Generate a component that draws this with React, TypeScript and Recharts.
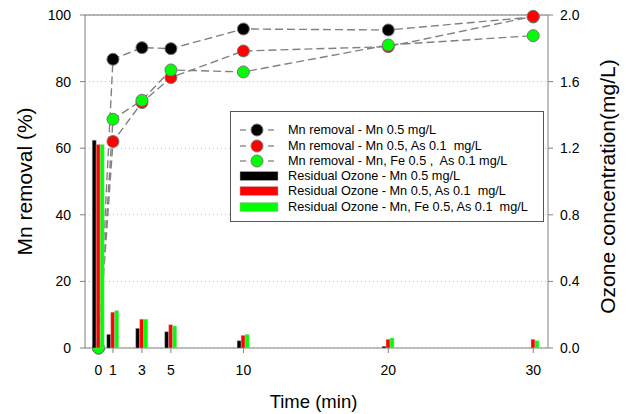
import React from 'react';
import { ComposedChart, Line, Bar, XAxis, YAxis, CartesianGrid, ReferenceLine, Legend } from 'recharts';

const FONT = '"Liberation Sans", Arial, sans-serif';

const times = [0, 1, 3, 5, 10, 20, 30];
const removalMn = [0, 86.7, 90.2, 89.9, 95.8, 95.5, 99.4];
const removalMnAs = [0, 62.0, 73.7, 81.2, 89.2, 90.5, 99.6];
const removalMnFeAs = [0, 68.7, 74.4, 83.5, 82.9, 91.0, 93.8];
const ozoneMn = [1.248, 0.082, 0.118, 0.098, 0.044, 0.01, 0];
const ozoneMnAs = [1.222, 0.215, 0.173, 0.14, 0.076, 0.052, 0.052];
const ozoneMnFeAs = [1.222, 0.225, 0.173, 0.132, 0.082, 0.06, 0.044];

const xTicks = [0, 1, 3, 5, 10, 20, 30];
const leftTicks = [0, 20, 40, 60, 80, 100];
const rightTicks = [0, 0.4, 0.8, 1.2, 1.6, 2.0];

const lineNames = [
  'Mn removal - Mn 0.5 mg/L',
  'Mn removal - Mn 0.5, As 0.1  mg/L',
  'Mn removal - Mn, Fe 0.5 ,  As 0.1 mg/L',
];
const barNames = [
  'Residual Ozone - Mn 0.5 mg/L',
  'Residual Ozone - Mn 0.5, As 0.1  mg/L',
  'Residual Ozone - Mn, Fe 0.5, As 0.1  mg/L',
];
const colors = ['#000000', '#ff0000', '#00ff00'];

const data = times.map((t, i) => ({
  t,
  rMn: removalMn[i],
  rMnAs: removalMnAs[i],
  rMnFeAs: removalMnFeAs[i],
  oMn: ozoneMn[i],
  oMnAs: ozoneMnAs[i],
  oMnFeAs: ozoneMnFeAs[i],
}));

const lineKeys = ['rMn', 'rMnAs', 'rMnFeAs'];
const barKeys = ['oMn', 'oMnAs', 'oMnFeAs'];

const LegendBox = () => {
  const rows = [
    ...lineNames.map((n, i) => ({ name: n, color: colors[i], kind: 'line' })),
    ...barNames.map((n, i) => ({ name: n, color: colors[i], kind: 'bar' })),
  ];
  return (
    <div
      style={{
        position: 'relative',
        width: 314,
        height: 111,
        border: '1px solid #555',
        boxSizing: 'border-box',
        background: '#fff',
        fontFamily: FONT,
        fontSize: 12.7,
        color: '#000',
      }}
    >
      {rows.map((r, i) => (
        <div
          key={i}
          style={{
            position: 'absolute',
            left: 0,
            top: 18.3 + i * 15.27 - 8,
            height: 16,
            display: 'flex',
            alignItems: 'center',
          }}
        >
          <svg width={57} height={16} style={{ display: 'block' }}>
            {r.kind === 'line' ? (
              <g>
                <line x1={9} y1={8} x2={15} y2={8} stroke="#808080" strokeWidth={1.3} />
                <line x1={37} y1={8} x2={43} y2={8} stroke="#808080" strokeWidth={1.3} />
                <circle cx={26} cy={8} r={6} fill={r.color} stroke="#777" strokeWidth={1} />
              </g>
            ) : (
              <rect x={9} y={3.5} width={38} height={9} fill={r.color} stroke="#bbb" strokeWidth={0.5} />
            )}
          </svg>
          <span style={{ whiteSpace: 'pre', lineHeight: '16px' }}>{r.name}</span>
        </div>
      ))}
    </div>
  );
};

const LeftTitle = (props: any) => {
  const vb = props.viewBox || {};
  const cy = vb.y + vb.height / 2;
  return (
    <text x={24} y={cy} transform={`rotate(-90 24 ${cy})`} textAnchor="middle" dominantBaseline="central" fontFamily={FONT} fontSize={21} fill="#000">
      Mn removal (%)
    </text>
  );
};

const RightTitle = (props: any) => {
  const vb = props.viewBox || {};
  const cy = vb.y + vb.height / 2 + 5;
  return (
    <text x={607} y={cy} transform={`rotate(-90 607 ${cy})`} textAnchor="middle" dominantBaseline="central" fontFamily={FONT} fontSize={21} fill="#000">
      Ozone concentration(mg/L)
    </text>
  );
};

const XTitle = (props: any) => {
  const vb = props.viewBox || {};
  const cx = vb.x + vb.width / 2 - 3;
  return (
    <text x={cx} y={401} textAnchor="middle" dominantBaseline="central" fontFamily={FONT} fontSize={18.5} fill="#000">
      Time (min)
    </text>
  );
};

export default function App() {
  const tickStyle = { fontFamily: FONT, fontSize: 14, fill: '#000' };
  return (
    <div style={{ position: 'absolute', left: 0, top: 0, width: 626, height: 414, background: '#fff' }}>
      <ComposedChart
        width={626}
        height={414}
        data={data}
        margin={{ top: 15, right: 0, bottom: 0, left: 0 }}
        barGap={0}
        barSize={4}
      >
        <CartesianGrid
          yAxisId="left"
          vertical={false}
          stroke="#9ad89a"
          strokeDasharray="1 3"
          strokeWidth={1}
        />
        <XAxis
          dataKey="t"
          type="number"
          domain={[-0.93, 31.02]}
          ticks={xTicks}
          allowDataOverflow
          height={66}
          tickSize={5}
          tickMargin={12}
          stroke="#808080"
          tick={tickStyle}
          tickLine={{ stroke: '#808080' }}
          label={<XTitle />}
        />
        <YAxis
          yAxisId="left"
          orientation="left"
          domain={[0, 100]}
          ticks={leftTicks}
          width={85}
          tickSize={5}
          tickMargin={9}
          stroke="#808080"
          tick={tickStyle}
          label={<LeftTitle />}
        />
        <YAxis
          yAxisId="right"
          orientation="right"
          domain={[0, 2]}
          ticks={rightTicks}
          width={78}
          tickSize={5}
          tickMargin={7}
          stroke="#808080"
          tick={tickStyle}
          tickFormatter={(v: number) => v.toFixed(1)}
          label={<RightTitle />}
        />
        <ReferenceLine yAxisId="left" y={100} stroke="#707070" strokeWidth={1} />
        {lineKeys.map((k, i) => (
          <Line
            key={k}
            yAxisId="left"
            dataKey={k}
            name={lineNames[i]}
            type="linear"
            stroke="#808080"
            strokeWidth={1.4}
            strokeDasharray="8 4"
            dot={{ r: 6, fill: colors[i], stroke: '#777', strokeWidth: 1, strokeDasharray: '' }}
            activeDot={false}
            isAnimationActive={false}
          />
        ))}
        {barKeys.map((k, i) => (
          <Bar
            key={k}
            yAxisId="right"
            dataKey={k}
            name={barNames[i]}
            fill={colors[i]}
            stroke="#c8c8c8"
            strokeWidth={0.4}
            isAnimationActive={false}
            zIndex={1200}
          />
        ))}
        <Legend
          layout="vertical"
          align="center"
          verticalAlign="middle"
          content={<LegendBox />}
          wrapperStyle={{ left: 230, top: 111, width: 314, height: 111 }}
        />
      </ComposedChart>
    </div>
  );
}
